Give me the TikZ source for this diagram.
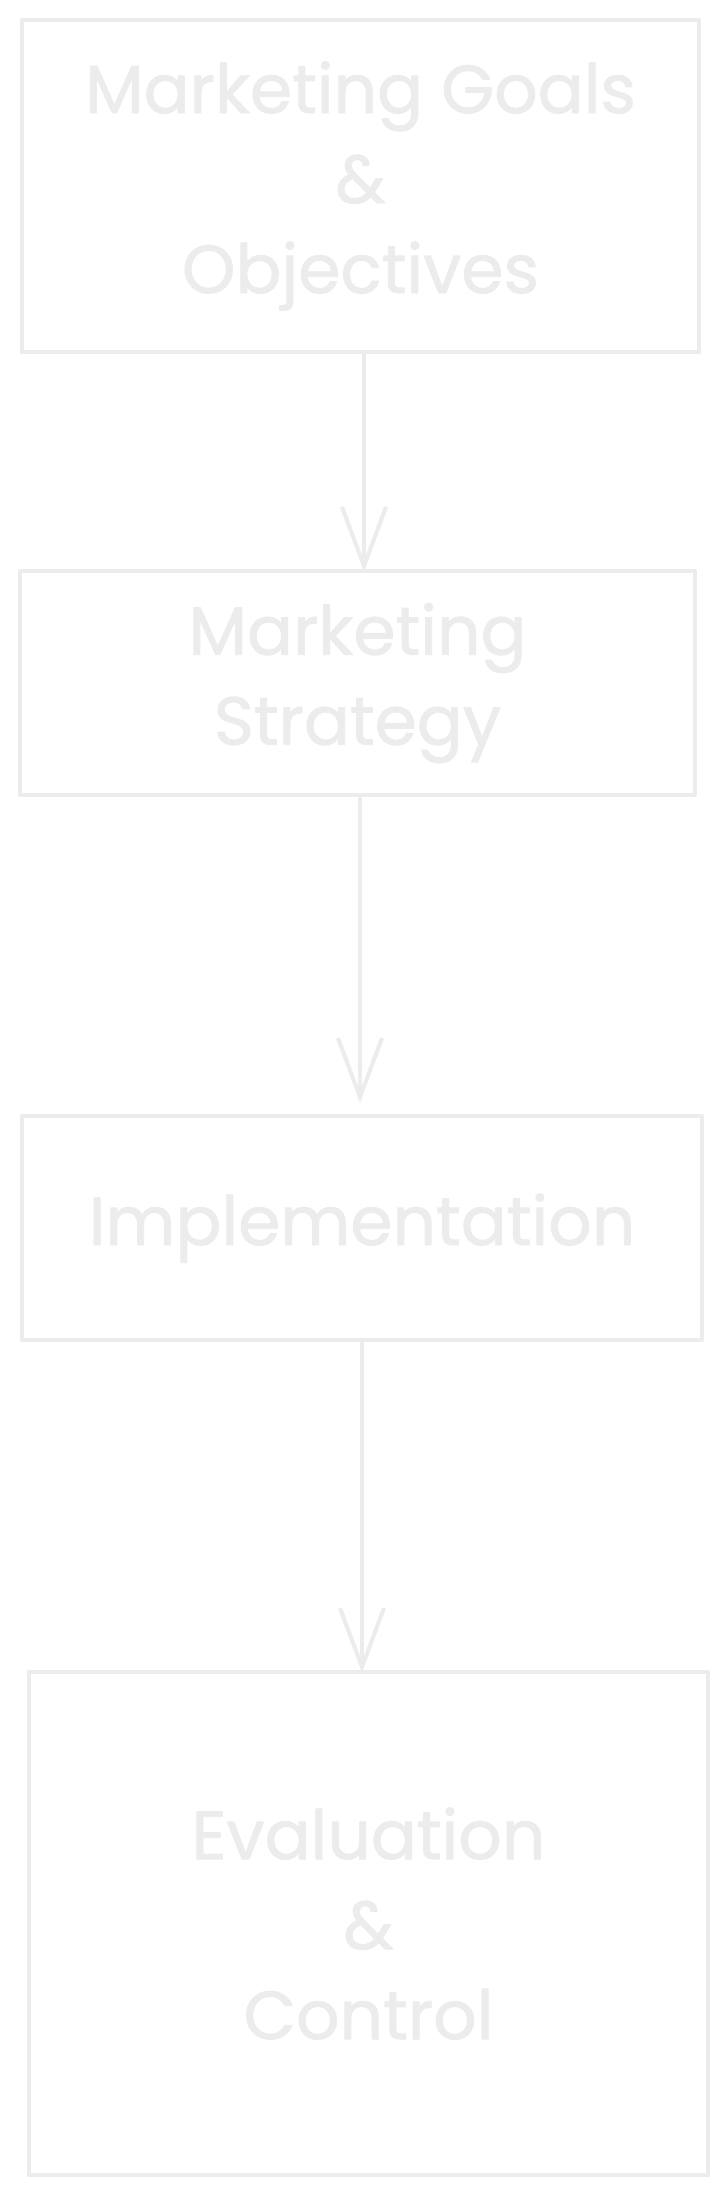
\documentclass[tikz,border=0pt]{standalone}
\usepackage{fontspec}
\setmainfont{Poppins}[FakeBold=1.2]
\usetikzlibrary{arrows.meta}
\definecolor{sketch}{HTML}{ECECEC}
\begin{document}
\begin{tikzpicture}[x=1pt,y=-1pt,
  box/.style={draw=sketch, line width=4.5pt, line join=round, inner sep=0pt,
    text=sketch, align=center, font=\fontsize{68}{90}\selectfont},
  flow/.style={draw=sketch, line width=4pt, line cap=round,
    -{Straight Barb[length=59pt,width=44pt,line width=4pt]}}]
\useasboundingbox[fill=white] (0,0) rectangle (726,2193);
\node[box, minimum width=677pt, minimum height=332pt] (b1) at (360.5,186)
  {Marketing Goals\\\&\\Objectives};
\node[box, minimum width=675pt, minimum height=224pt] (b2) at (357.5,683)
  {Marketing\\Strategy};
\node[box, minimum width=680pt, minimum height=224pt] (b3) at (362,1228)
  {Implementation};
\node[box, minimum width=679pt, minimum height=503pt] (b4) at (368.5,1923.5)
  {Evaluation\\\&\\Control};
\draw[flow] ([xshift=3.5pt]b1.south) -- ([xshift=6.5pt,yshift=-3pt]b2.north);
\draw[flow, shorten >=11pt] ([xshift=2.5pt]b2.south) -- ([xshift=-2pt]b3.north);
\draw[flow] (b3.south) -- ([xshift=-6.5pt,yshift=-3pt]b4.north);
\end{tikzpicture}
\end{document}
